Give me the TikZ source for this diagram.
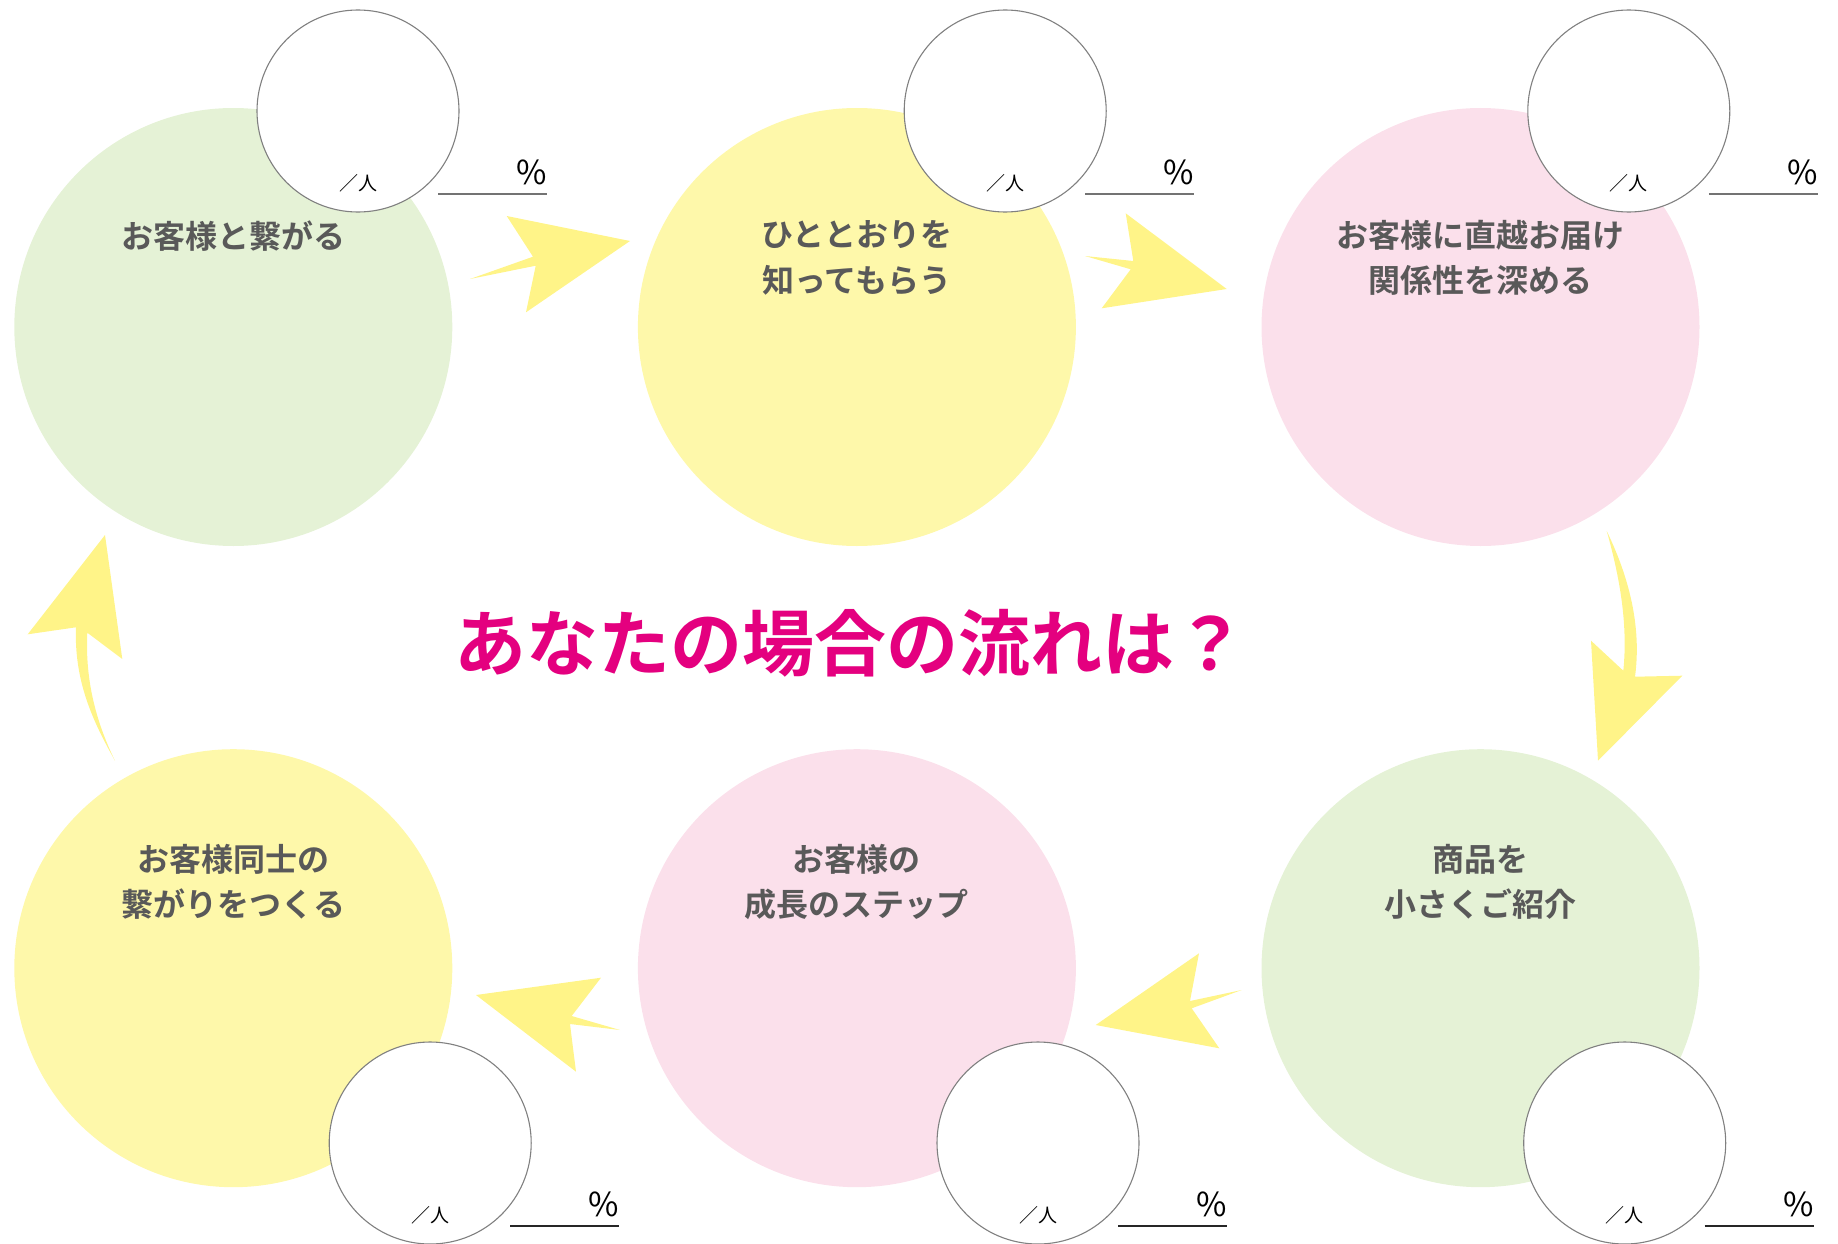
\documentclass[tikz,border=0pt]{standalone}
\usepackage{fontspec}
\setmainfont{Noto Sans CJK JP}[BoldFont={Noto Sans CJK JP Bold}]
\definecolor{cgreen}{HTML}{E5F2D6}
\definecolor{cyellow}{HTML}{FEF8AA}
\definecolor{cpink}{HTML}{FBE0EB}
\definecolor{carrow}{HTML}{FFF488}
\definecolor{ctext}{HTML}{595959}
\definecolor{ctitle}{HTML}{E4007F}
\tikzset{
  big/.style={circle, inner sep=0pt, minimum size=438pt},
  small/.style={circle, inner sep=0pt, minimum size=202pt, draw=black!50, line width=1.1pt, fill=white},
  lbl/.style={text=ctext, font=\bfseries\fontsize{32}{45.5}\selectfont, align=center, inner sep=0pt},
  ppl/.style={text=black, font=\fontsize{19}{19}\selectfont, inner sep=0pt},
  pct/.style={text=black, font=\fontsize{33}{33}\selectfont, inner sep=0pt, anchor=base east},
  arrowshape/.style={fill=carrow, draw=none},
}
\begin{document}
\begin{tikzpicture}[x=1pt, y=-1pt]
\useasboundingbox (0,0) rectangle (1838,1244);
% big circles
\node[big, fill=cgreen]  (c1) at (233.3,327) {};
\node[big, fill=cyellow] (c2) at (856.9,327) {};
\node[big, fill=cpink]   (c3) at (1480.5,327) {};
\node[big, fill=cgreen]  (c4) at (1480.5,968.2) {};
\node[big, fill=cpink]   (c5) at (856.9,968.2) {};
\node[big, fill=cyellow] (c6) at (233.3,968.2) {};
% small circles
\node[small] (s1) at (358,111) {};
\node[small] (s2) at (1005.2,111) {};
\node[small] (s3) at (1628.8,111) {};
\node[small] (s4) at (1624.7,1143) {};
\node[small] (s5) at (1038,1143) {};
\node[small] (s6) at (430.2,1143) {};
% per-person labels
\foreach \i in {1,...,6} {
  \node[ppl] (n\i) at ([yshift=-72.5pt]s\i.center) {／人};
  \coordinate (la\i) at ([xshift=80pt,yshift=-83pt]s\i.center);
  \coordinate (lb\i) at ([xshift=189pt,yshift=-83pt]s\i.center);
  \node[pct] (p\i) at ([xshift=189pt,yshift=-73pt]s\i.center) {\%};
}
\foreach \i in {1,2,3} \draw[black!55, line width=1.5pt] (la\i) -- (lb\i);
\foreach \i in {4,5,6} \draw[black!85, line width=1.5pt] (la\i) -- (lb\i);
% labels
\node[lbl] (t1) at (233.3,236) {お客様と繋がる};
\node[lbl] (t2) at (856.9,258) {ひととおりを\\知ってもらう};
\node[lbl] (t3) at (1480.5,258) {お客様に直越お届け\\関係性を深める};
\node[lbl] (t4) at (1480.5,882) {商品を\\小さくご紹介};
\node[lbl] (t5) at (856.9,882) {お客様の\\成長のステップ};
\node[lbl] (t6) at (233.3,882) {お客様同士の\\繋がりをつくる};
% title
\node[text=ctitle, font=\bfseries\fontsize{72}{72}\selectfont, inner sep=0pt] (title) at (850,643) {あなたの場合の流れは？};
% arrows
\fill[arrowshape] (470,279) -- (533,256.7) -- (506.7,216) -- (630,241) -- (526,312.3) -- (535.7,265.7) -- cycle;
\fill[arrowshape] (1085,256) -- (1133.3,261) -- (1125.7,213.3) -- (1226.7,289) -- (1101.7,308.3) -- (1130.7,269.3) -- cycle;
\fill[arrowshape] (1606.7,531) .. controls (1628,575) and (1642,625) .. (1635,676.7) -- (1682.3,675.7) -- (1598,760.7) -- (1591,640.7) -- (1623.3,670.7) .. controls (1628,625) and (1620,578) .. cycle;
\fill[arrowshape] (1241.7,990) -- (1190,1001) -- (1199,953.3) -- (1095.7,1025) -- (1219.3,1048.3) -- (1191.7,1008.3) -- cycle;
\fill[arrowshape] (620,1030) -- (570,1024) -- (576,1071.7) -- (476,995) -- (601,977.7) -- (571.7,1016) -- cycle;
\fill[arrowshape] (115,760.7) .. controls (92,720) and (74,680) .. (76,627.3) -- (27.7,634.3) -- (105,535) -- (122.3,659) -- (87.3,632.7) .. controls (85,680) and (96,722) .. cycle;
\end{tikzpicture}
\end{document}
